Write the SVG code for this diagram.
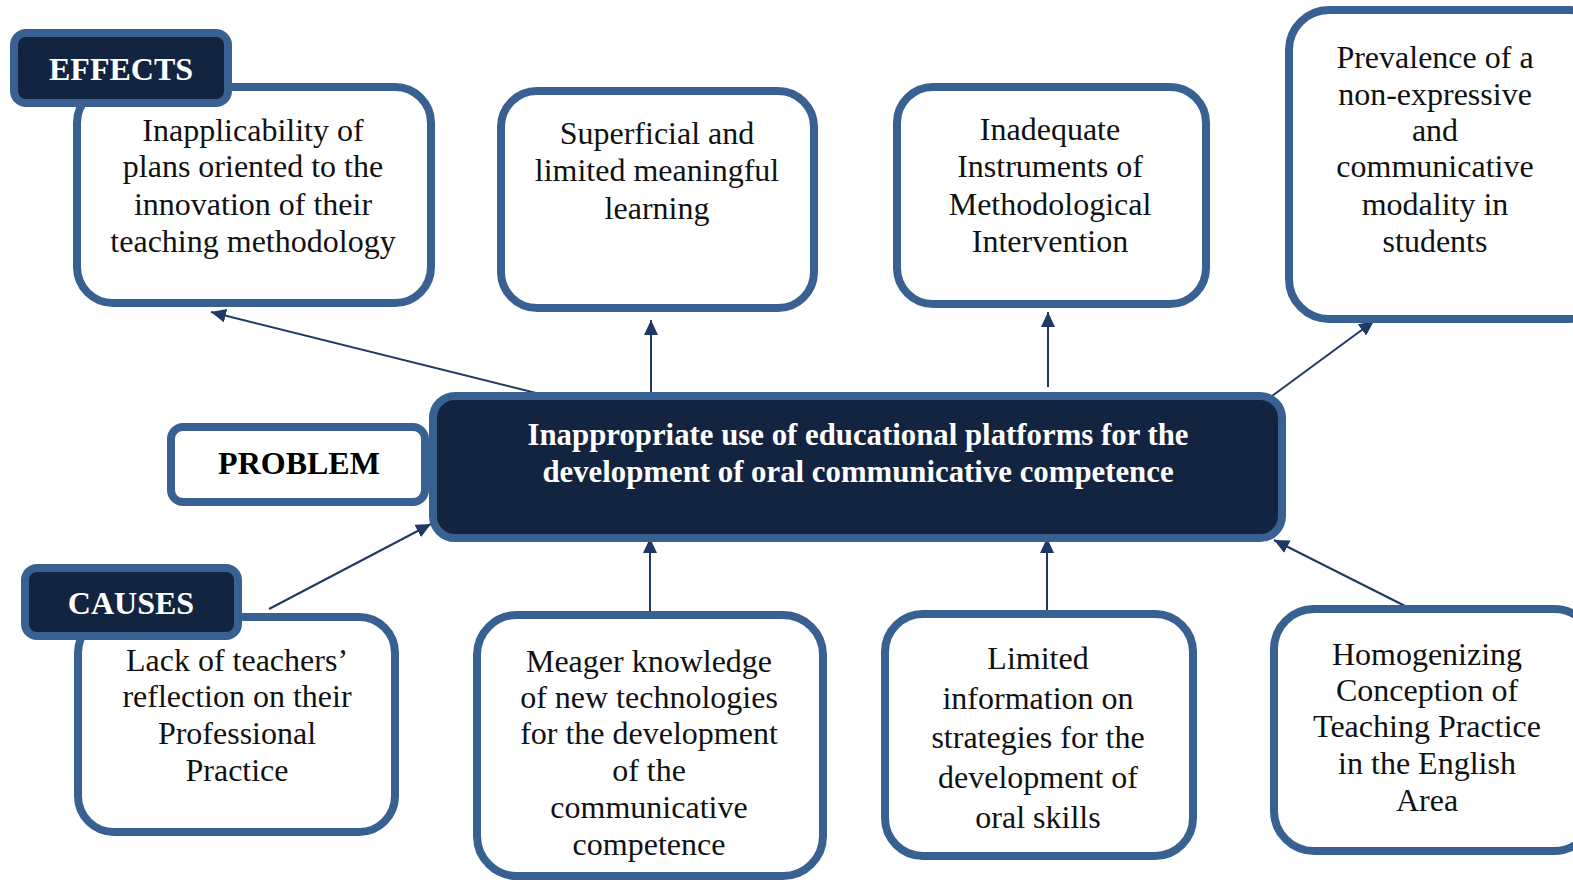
<svg xmlns="http://www.w3.org/2000/svg" width="1573" height="883" viewBox="0 0 1573 883">
<defs>
<marker id="ah" viewBox="0 0 15 14" refX="15" refY="7" markerWidth="15" markerHeight="14" markerUnits="userSpaceOnUse" orient="auto">
<path d="M0,0 L15,7 L0,14 z" fill="#1f3864"/>
</marker>
<style>
.box{fill:#fff;stroke:#386192;stroke-width:8}
.dark{fill:#12243f;stroke:#386192;stroke-width:8}
.t{font-family:"Liberation Serif","Times New Roman",serif;font-size:32px;fill:#111;text-anchor:middle}
.lb{font-family:"Liberation Serif","Times New Roman",serif;font-size:32px;font-weight:bold;text-anchor:middle}
.pt{font-family:"Liberation Serif","Times New Roman",serif;font-size:30.8px;font-weight:bold;fill:#fff;text-anchor:middle}
.c{stroke:#1f3864;stroke-width:2;fill:none}
</style>
</defs>
<rect width="1573" height="883" fill="#fff"/>
<g id="connectors">
<line class="c" x1="560" y1="399" x2="211" y2="312" marker-end="url(#ah)"/>
<line class="c" x1="651" y1="395" x2="651" y2="320" marker-end="url(#ah)"/>
<line class="c" x1="1048" y1="387" x2="1048" y2="312" marker-end="url(#ah)"/>
<line class="c" x1="1272" y1="396" x2="1374" y2="321" marker-end="url(#ah)"/>
<line class="c" x1="269" y1="609" x2="431" y2="524" marker-end="url(#ah)"/>
<line class="c" x1="650" y1="612" x2="650" y2="538" marker-end="url(#ah)"/>
<line class="c" x1="1047" y1="615" x2="1047" y2="538" marker-end="url(#ah)"/>
<line class="c" x1="1411" y1="609" x2="1274" y2="540" marker-end="url(#ah)"/>
</g>
<g id="effect1">
<rect class="box" x="77" y="87" width="354" height="216" rx="36"/>
<text class="t" x="253" y="141">Inapplicability of</text>
<text class="t" x="253" y="177">plans oriented to the</text>
<text class="t" x="253" y="215">innovation of their</text>
<text class="t" x="253" y="252">teaching methodology</text>
</g>
<g id="effects-label">
<rect class="dark" x="14" y="33" width="214" height="70" rx="12"/>
<text class="lb" x="121" y="80" fill="#fff">EFFECTS</text>
</g>
<g id="effect2">
<rect class="box" x="501" y="91" width="313" height="217" rx="36"/>
<text class="t" x="657" y="144">Superficial and</text>
<text class="t" x="657" y="181">limited meaningful</text>
<text class="t" x="657" y="219">learning</text>
</g>
<g id="effect3">
<rect class="box" x="897" y="87" width="309" height="217" rx="36"/>
<text class="t" x="1050" y="140">Inadequate</text>
<text class="t" x="1050" y="177">Instruments of</text>
<text class="t" x="1050" y="215">Methodological</text>
<text class="t" x="1050" y="252">Intervention</text>
</g>
<g id="effect4">
<rect class="box" x="1289" y="10" width="320" height="309" rx="40"/>
<text class="t" x="1435" y="68">Prevalence of a</text>
<text class="t" x="1435" y="105">non-expressive</text>
<text class="t" x="1435" y="141">and</text>
<text class="t" x="1435" y="177">communicative</text>
<text class="t" x="1435" y="215">modality in</text>
<text class="t" x="1435" y="252">students</text>
</g>
<g id="problem-label">
<rect class="box" x="171" y="427" width="254" height="75" rx="12"/>
<text class="lb" x="299" y="474" fill="#000">PROBLEM</text>
</g>
<g id="problem">
<rect class="dark" x="433" y="396" width="849" height="142" rx="22"/>
<text class="pt" x="858" y="445">Inappropriate use of educational platforms for the</text>
<text class="pt" x="858" y="482">development of oral communicative competence</text>
</g>
<g id="cause1">
<rect class="box" x="78" y="617" width="317" height="215" rx="36"/>
<text class="t" x="237" y="671">Lack of teachers’</text>
<text class="t" x="237" y="707">reflection on their</text>
<text class="t" x="237" y="744">Professional</text>
<text class="t" x="237" y="781">Practice</text>
</g>
<g id="causes-label">
<rect class="dark" x="25" y="568" width="213" height="68" rx="12"/>
<text class="lb" x="131" y="614" fill="#fff">CAUSES</text>
</g>
<g id="cause2">
<rect class="box" x="477" y="615" width="346" height="261" rx="40"/>
<text class="t" x="649" y="672">Meager knowledge</text>
<text class="t" x="649" y="708">of new technologies</text>
<text class="t" x="649" y="744">for the development</text>
<text class="t" x="649" y="781">of the</text>
<text class="t" x="649" y="818">communicative</text>
<text class="t" x="649" y="855">competence</text>
</g>
<g id="cause3">
<rect class="box" x="885" y="614" width="308" height="242" rx="38"/>
<text class="t" x="1038" y="669">Limited</text>
<text class="t" x="1038" y="709">information on</text>
<text class="t" x="1038" y="748">strategies for the</text>
<text class="t" x="1038" y="788">development of</text>
<text class="t" x="1038" y="828">oral skills</text>
</g>
<g id="cause4">
<rect class="box" x="1274" y="609" width="320" height="242" rx="40"/>
<text class="t" x="1427" y="665">Homogenizing</text>
<text class="t" x="1427" y="701">Conception of</text>
<text class="t" x="1427" y="737">Teaching Practice</text>
<text class="t" x="1427" y="774">in the English</text>
<text class="t" x="1427" y="811">Area</text>
</g>
</svg>
